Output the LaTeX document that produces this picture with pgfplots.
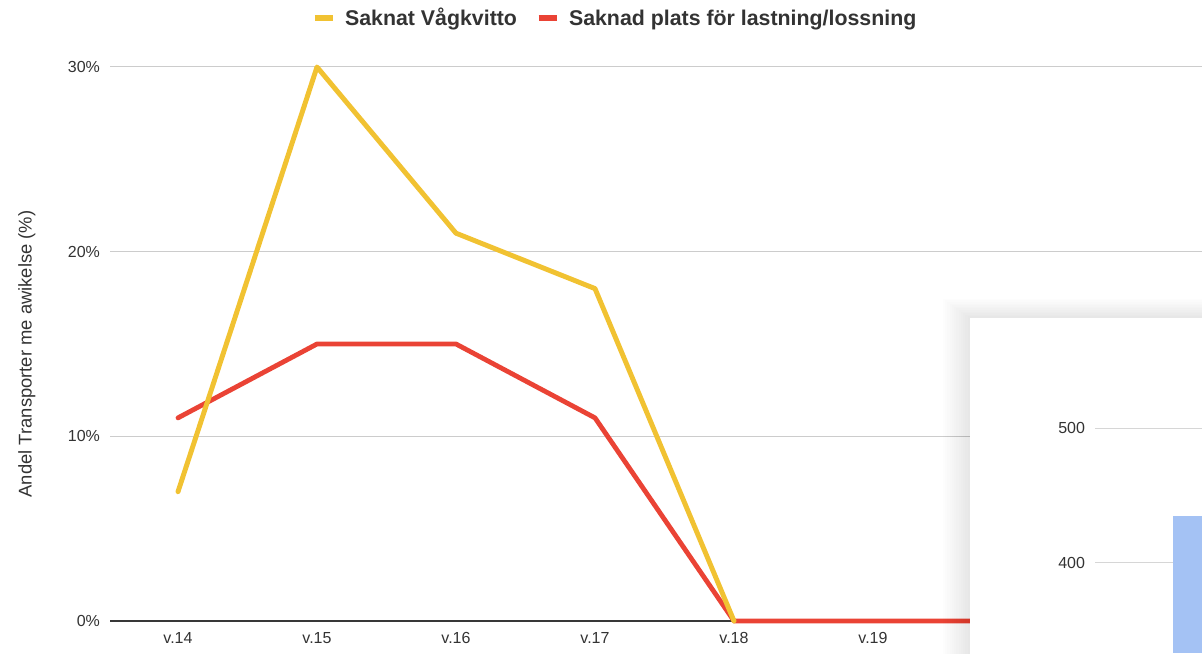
\documentclass[border=0pt]{standalone}
\usepackage{pgfplots}
\usepackage{pgfplotstable}
\pgfplotsset{compat=1.18}
\usepackage{fontspec}
\setmainfont{Liberation Sans}
\definecolor{yel}{HTML}{F1C232}
\definecolor{redl}{HTML}{EA4335}
\definecolor{gridc}{HTML}{CCCCCC}
\definecolor{txt}{HTML}{333333}
\definecolor{barb}{HTML}{A4C2F4}

\pgfplotstableread{
x y
0 7
1 30
2 21
3 18
4 0
}\yeldata
\pgfplotstableread{
x y
0 11
1 15
2 15
3 11
4 0
5 0
6 0
}\reddata

\begin{document}
\begin{tikzpicture}
\path[use as bounding box] (0pt,0pt) rectangle (901.5pt,489.75pt);
\clip (0pt,0pt) rectangle (901.5pt,489.75pt);
\begin{axis}[
  at={(82.5pt,24pt)}, anchor=south west, scale only axis,
  width=843.3pt, height=415.5pt,
  xmin=-0.4892, xmax=7.6, ymin=0, ymax=30,
  clip=false,
  axis x line=bottom, axis y line=left,
  x axis line style={-, draw=black!78, line width=1.1pt},
  y axis line style={draw=none},
  major tick length=0pt,
  /pgf/number format/assume math mode=true,
  xtick={0,1,2,3,4,5,6},
  xticklabels={v.14,v.15,v.16,v.17,v.18,v.19,v.20},
  ytick={0,10,20,30},
  yticklabel={\pgfmathprintnumber{\tick}\%},
  ymajorgrids, grid style={gridc, line width=0.75pt},
  tick label style={font=\fontsize{12}{14}\selectfont, text=txt},
  yticklabel style={xshift=-4pt},
  xticklabel style={yshift=-5pt},
  ylabel={Andel Transporter me awikelse (\%)},
  every axis y label/.style={at={(axis description cs:-0.074,0.482)}, rotate=90, anchor=center, font=\fontsize{13.8}{16}\selectfont, text=txt},
  legend style={at={(axis description cs:0.4495,1.088)}, anchor=center, draw=none, fill=none,
    legend columns=2, font=\bfseries\fontsize{16}{19}\selectfont, text=txt,
    nodes={text height=14pt, text depth=3.5pt},
    /tikz/every odd column/.append style={column sep=5pt},
    /tikz/every even column/.append style={column sep=12pt}},
  reverse legend,
  legend image code/.code={\draw[#1, line width=4.5pt, line cap=butt] (0pt,0pt) -- (13.5pt,0pt);},
]
\addplot[redl, line width=3.6pt, line join=round, line cap=round] table[x=x,y=y] {\reddata};
\addlegendentry{Saknad plats för lastning/lossning}
\addplot[yel, line width=3.7pt, line join=round, line cap=round] table[x=x,y=y] {\yeldata};
\addlegendentry{Saknat Vågkvitto}
\end{axis}
\foreach \k in {1,...,12} {
  \fill[black, opacity=0.007] ({727.5pt-1.7pt*\k}, -10pt) rectangle (920pt, {251.25pt+1.2pt*\k});
}
\fill[white] (727.5pt,-10pt) rectangle (920pt,251.25pt);
\begin{axis}[
  at={(821.25pt,0pt)}, anchor=south west, scale only axis,
  width=123.75pt, height=234.75pt,
  xmin=0, xmax=1, ymin=333.33, ymax=565.19,
  axis line style={draw=none},
  major tick length=0pt,
  /pgf/number format/assume math mode=true,
  xtick=\empty,
  ytick={400,500},
  ymajorgrids, grid style={gridc!80, line width=0.75pt},
  tick label style={font=\fontsize{12}{14}\selectfont, text=txt},
  yticklabel style={xshift=-4pt},
]
\addplot[ybar, bar width=69pt, fill=barb, draw=none] coordinates {(0.75,435)};
\end{axis}
\end{tikzpicture}
\end{document}
